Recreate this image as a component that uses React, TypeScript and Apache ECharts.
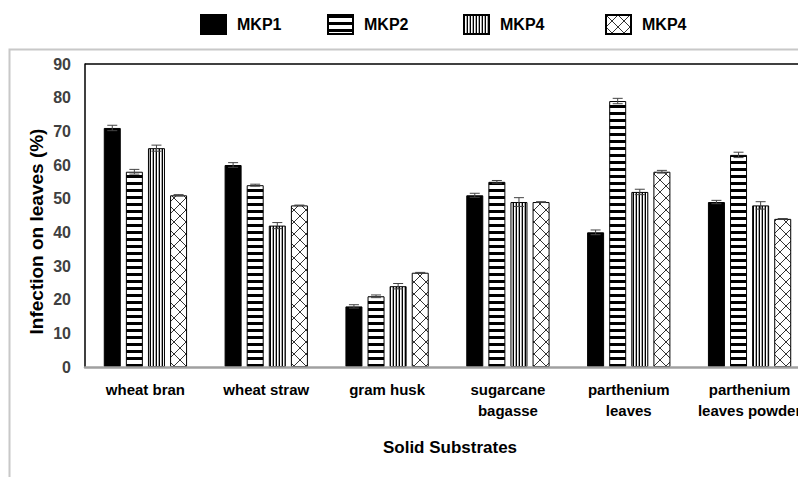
import React, { useEffect, useRef } from 'react';
import * as echarts from 'echarts';

const categories = [
  'wheat bran',
  'wheat straw',
  'gram husk',
  'sugarcane\nbagasse',
  'parthenium\nleaves',
  'parthenium\nleaves powder',
];
const seriesNames = ['MKP1', 'MKP2', 'MKP4', 'MKP4 '];
const mkp1 = [71, 60, 18, 51, 40, 49];
const mkp2 = [58, 54, 21, 55, 79, 63];
const mkp4a = [65, 42, 24, 49, 52, 48];
const mkp4b = [51, 48, 28, 49, 58, 44];
const err1 = [0.8, 0.7, 0.5, 0.6, 0.7, 0.5];
const err2 = [0.7, 0.3, 0.4, 0.4, 0.8, 0.8];
const err3 = [0.9, 0.9, 0.8, 1.3, 0.8, 1.1];
const err4 = [0.2, 0.1, 0.1, 0.1, 0.4, 0.1];
const yMin = 0;
const yMax = 90;
const yStep = 10;

const BAR_W = 17;
const GAP = 0.3;
const FONT = "'Liberation Sans', Arial, sans-serif";

function canvasPattern(w: number, h: number, draw: (ctx: CanvasRenderingContext2D) => void) {
  const c = document.createElement('canvas');
  c.width = w;
  c.height = h;
  const ctx = c.getContext('2d')!;
  ctx.fillStyle = '#ffffff';
  ctx.fillRect(0, 0, w, h);
  draw(ctx);
  return { image: c, repeat: 'repeat' } as any;
}

export default function App() {
  const ref = useRef<HTMLDivElement>(null);
  useEffect(() => {
    document.body.style.margin = '0';
    const chart = echarts.init(ref.current!, undefined, { renderer: 'svg' });

    const hStripe = canvasPattern(8, 7, (ctx) => {
      ctx.fillStyle = '#000';
      ctx.fillRect(0, 0, 8, 3);
    });
    const vStripe = canvasPattern(3, 8, (ctx) => {
      ctx.fillStyle = '#000';
      ctx.fillRect(0, 0, 1, 8);
      ctx.fillStyle = '#a8a8a8';
      ctx.fillRect(2, 0, 1, 8);
    });
    const diamond = canvasPattern(12, 12, (ctx) => {
      ctx.strokeStyle = '#333';
      ctx.lineWidth = 1;
      ctx.beginPath();
      ctx.moveTo(0, 0);
      ctx.lineTo(12, 12);
      ctx.moveTo(12, 0);
      ctx.lineTo(0, 12);
      ctx.stroke();
    });

    const fills = ['#000000', hStripe, vStripe, diamond];
    const vals = [mkp1, mkp2, mkp4a, mkp4b];
    const errs = [err1, err2, err3, err4];

    const barSeries = seriesNames.map((name, si) => ({
      type: 'bar',
      name,
      data: vals[si],
      barWidth: BAR_W,
      barGap: GAP * 100 + '%',
      itemStyle: { color: fills[si], borderColor: '#000', borderWidth: 1 },
      z: 2,
    }));

    const errSeries = seriesNames.map((_, si) => ({
      type: 'custom',
      name: 'err' + si,
      z: 10,
      silent: true,
      data: vals[si].map((v, i) => [i, v, errs[si][i]]),
      encode: { x: 0, y: 1 },
      renderItem: (params: any, api: any) => {
        const idx = api.value(0);
        const v = api.value(1);
        const e = api.value(2);
        const cx = api.coord([idx, v])[0] + (si - 1.5) * (BAR_W * (1 + GAP));
        const top = api.coord([idx, v + e])[1];
        const bot = api.coord([idx, v - e])[1];
        const cap = 5;
        const style = { stroke: '#444', lineWidth: 1 };
        return {
          type: 'group',
          children: [
            { type: 'line', shape: { x1: cx, y1: top, x2: cx, y2: bot }, style },
            { type: 'line', shape: { x1: cx - cap, y1: top, x2: cx + cap, y2: top }, style },
            { type: 'line', shape: { x1: cx - cap, y1: bot, x2: cx + cap, y2: bot }, style },
          ],
        };
      },
    }));

    const legendLefts = [195, 322, 458, 600];
    const legends = seriesNames.map((name, i) => ({
      data: [name],
      left: legendLefts[i],
      top: 9,
      itemWidth: 25,
      itemHeight: 19,
      icon: 'rect',
      selectedMode: false,
      formatter: (n: string) => n.trim(),
      textStyle: {
        fontSize: 16,
        fontWeight: 'bold',
        color: '#000',
        fontFamily: FONT,
        padding: [0, 0, 0, 6],
      },
    }));

    chart.setOption({
      animation: false,
      textStyle: { fontFamily: FONT },
      legend: legends,
      grid: {
        left: 85,
        top: 64,
        width: 725,
        height: 303,
        containLabel: false,
        outerBoundsMode: 'none',
      },
      xAxis: {
        type: 'category',
        data: categories,
        z: 5,
        axisLine: { show: true, lineStyle: { color: '#a0a0a0', width: 2.5 } },
        axisTick: { show: false },
        axisLabel: {
          interval: 0,
          margin: 12,
          fontSize: 15,
          fontWeight: 'bold',
          lineHeight: 21,
          color: '#000',
          fontFamily: FONT,
        },
      },
      yAxis: {
        type: 'value',
        min: yMin,
        max: yMax,
        interval: yStep,
        axisLine: { show: true, lineStyle: { color: '#000', width: 1.5 } },
        axisTick: { show: false },
        splitLine: { show: false },
        axisLabel: {
          margin: 14,
          fontSize: 16,
          fontWeight: 'bold',
          color: '#404040',
        },
      },
      graphic: [
        {
          type: 'rect',
          silent: true,
          z: -1,
          shape: { x: 9.5, y: 49.5, width: 900, height: 600 },
          style: { fill: 'none', stroke: '#c8c8c8', lineWidth: 2 },
        },
        {
          type: 'line',
          silent: true,
          shape: { x1: 85, y1: 64, x2: 820, y2: 64 },
          style: { stroke: '#000', lineWidth: 1.5 },
        },
        {
          type: 'text',
          x: 36,
          y: 231.5,
          rotation: Math.PI / 2,
          style: {
            text: 'Infection on leaves (%)',
            align: 'center',
            verticalAlign: 'middle',
            fontSize: 19,
            fontWeight: 'bold',
            fontFamily: FONT,
            fill: '#000',
          },
        },
        {
          type: 'text',
          x: 450,
          y: 447,
          style: {
            text: 'Solid Substrates',
            align: 'center',
            verticalAlign: 'middle',
            fontSize: 17,
            fontWeight: 'bold',
            fontFamily: FONT,
            fill: '#000',
          },
        },
      ],
      series: [...barSeries, ...errSeries],
    });
    return () => chart.dispose();
  }, []);
  return <div ref={ref} style={{ width: 798, height: 477 }} />;
}
